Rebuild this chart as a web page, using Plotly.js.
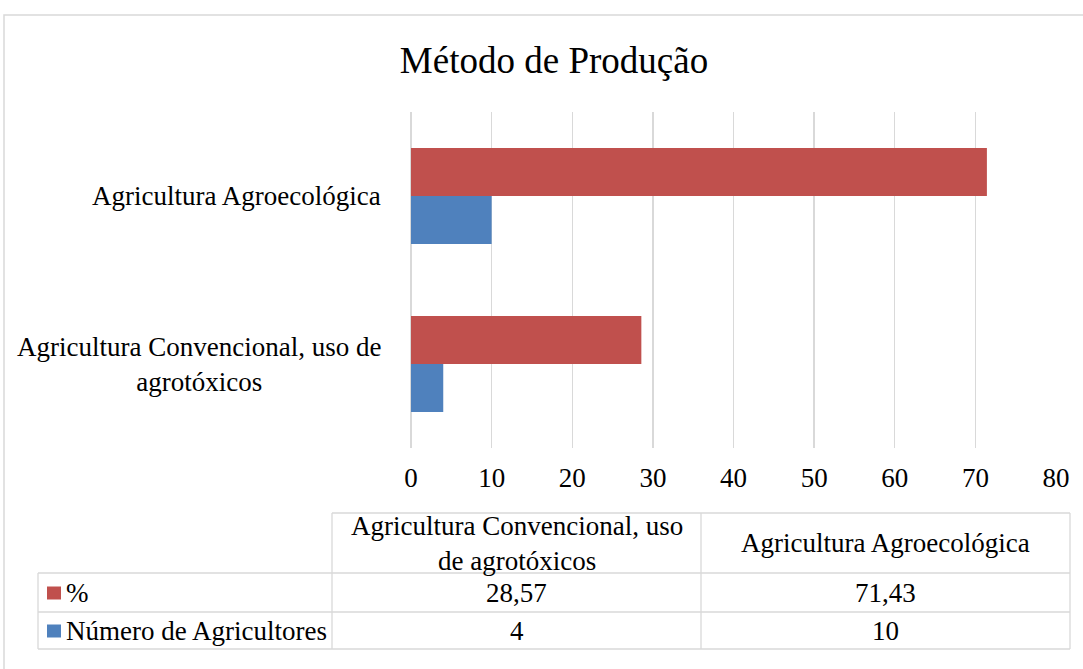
<!DOCTYPE html>
<html>
<head>
<meta charset="utf-8">
<script src="https://cdn.plot.ly/plotly-3.0.1.min.js"></script>
<style>
  html, body { margin: 0; padding: 0; background: #ffffff; }
  #chart { width: 1083px; height: 669px; }
</style>
</head>
<body>
<div id="chart"></div>
<script>
// ---- Data ----
const categories = ["Agricultura Convencional, uso de agrotóxicos", "Agricultura Agroecológica"];
const categoryLabels = ["Agricultura Convencional, uso de<br>agrotóxicos", "Agricultura Agroecológica"];
const tableHeaders = ["Agricultura Convencional, uso<br>de agrotóxicos", "Agricultura Agroecológica"];
const seriesNames = ["%", "Número de Agricultores"];
const pctValues = [28.57, 71.43];
const countValues = [4, 10];
const xTicks = [0, 10, 20, 30, 40, 50, 60, 70, 80];

// ---- Styling / geometry ----
const W = 1083, H = 669;
const M = { l: 411, r: 27, t: 112, b: 221 };
const PW = W - M.l - M.r, PH = H - M.t - M.b;
const px2x = px => (px - M.l) / PW;
const py2y = py => (H - M.b - py) / PH;
const RED = "#C0504D", BLUE = "#4F81BD", GRID = "#D9D9D9";
const FONT = "Liberation Serif, Times New Roman, serif";
const FS = 27;

const fmt = v => (Number.isInteger(v) ? String(v) : v.toFixed(2).replace(".", ","));

const traces = [
  { type: "bar", orientation: "h", name: seriesNames[1], y: categories, x: countValues,
    marker: { color: BLUE }, hoverinfo: "none" },
  { type: "bar", orientation: "h", name: seriesNames[0], y: categories, x: pctValues,
    marker: { color: RED }, hoverinfo: "none" }
];

const shapes = [];
const annotations = [];
const line = (x0, y0, x1, y1, color, w) => shapes.push({
  type: "line", xref: "paper", yref: "paper",
  x0: px2x(x0), y0: py2y(y0), x1: px2x(x1), y1: py2y(y1),
  line: { color: color || GRID, width: w || 1.3 }
});

// outer chart border
shapes.push({ type: "rect", xref: "paper", yref: "paper",
  x0: px2x(4), y0: py2y(700), x1: px2x(1120), y1: py2y(15),
  line: { color: GRID, width: 1.5 }, fillcolor: "rgba(0,0,0,0)", layer: "below" });

// data table grid
const colX = [38, 332, 701, 1070];
const rowY = [513, 573, 612, 649];
line(colX[1], rowY[0], colX[3], rowY[0]);
line(colX[0], rowY[1], colX[3], rowY[1]);
line(colX[0], rowY[2], colX[3], rowY[2]);
line(colX[0], rowY[3], colX[3], rowY[3]);
line(colX[0], rowY[1], colX[0], rowY[3]);
line(colX[1], rowY[0], colX[1], rowY[3]);
line(colX[2], rowY[0], colX[2], rowY[3]);
line(colX[3], rowY[0], colX[3], rowY[3]);

const txt = (x, y, text, xanchor, size) => annotations.push({
  xref: "paper", yref: "paper", x: px2x(x), y: py2y(y), text: text,
  xanchor: xanchor || "center", yanchor: "middle", align: "center", showarrow: false,
  font: { family: FONT, size: size || FS, color: "#000000" }
});

// header cells
for (let i = 0; i < tableHeaders.length; i++) {
  txt((colX[i + 1] + colX[i + 2]) / 2, (rowY[0] + rowY[1]) / 2, tableHeaders[i]);
}
// rows
const rows = [
  { name: seriesNames[0], color: RED, values: pctValues },
  { name: seriesNames[1], color: BLUE, values: countValues }
];
rows.forEach((r, k) => {
  const yc = (rowY[k + 1] + rowY[k + 2]) / 2;
  shapes.push({ type: "rect", xref: "paper", yref: "paper",
    x0: px2x(47), x1: px2x(61), y0: py2y(yc + 7), y1: py2y(yc - 6),
    fillcolor: r.color, line: { width: 0 } });
  txt(64, yc, r.name, "left");
  r.values.forEach((v, j) => txt((colX[j + 1] + colX[j + 2]) / 2, yc, fmt(v)));
});

// category labels (centered multi-line like the original)
categories.forEach((c, i) => annotations.push({
  xref: "paper", yref: "y", x: px2x(383), y: c, text: categoryLabels[i],
  xanchor: "right", yanchor: "middle", align: "center", showarrow: false,
  font: { family: FONT, size: FS, color: "#000000" }
}));

const layout = {
  width: W, height: H,
  margin: M,
  paper_bgcolor: "#ffffff", plot_bgcolor: "#ffffff",
  barmode: "group", bargap: 0.43, bargroupgap: 0,
  showlegend: false,
  title: { text: "Método de Produção", x: 554 / W, xanchor: "center",
    y: 1 - 60 / H, yanchor: "middle",
    font: { family: FONT, size: 37, color: "#000000" } },
  xaxis: { range: [0, 80], tickvals: xTicks, ticktext: xTicks.map(String),
    showgrid: true, gridcolor: GRID, gridwidth: 1.3,
    zeroline: true, zerolinecolor: GRID, zerolinewidth: 1.3,
    showline: false, ticks: "", ticklabelstandoff: 11,
    tickfont: { family: FONT, size: FS, color: "#000000" }, fixedrange: true },
  yaxis: { type: "category", categoryorder: "array", categoryarray: categories,
    range: [-0.5, 1.5], showticklabels: false, showgrid: false, zeroline: false,
    showline: false, ticks: "", fixedrange: true },
  shapes: shapes,
  annotations: annotations,
  font: { family: FONT }
};

Plotly.newPlot("chart", traces, layout, { displayModeBar: false, staticPlot: true });
</script>
</body>
</html>
